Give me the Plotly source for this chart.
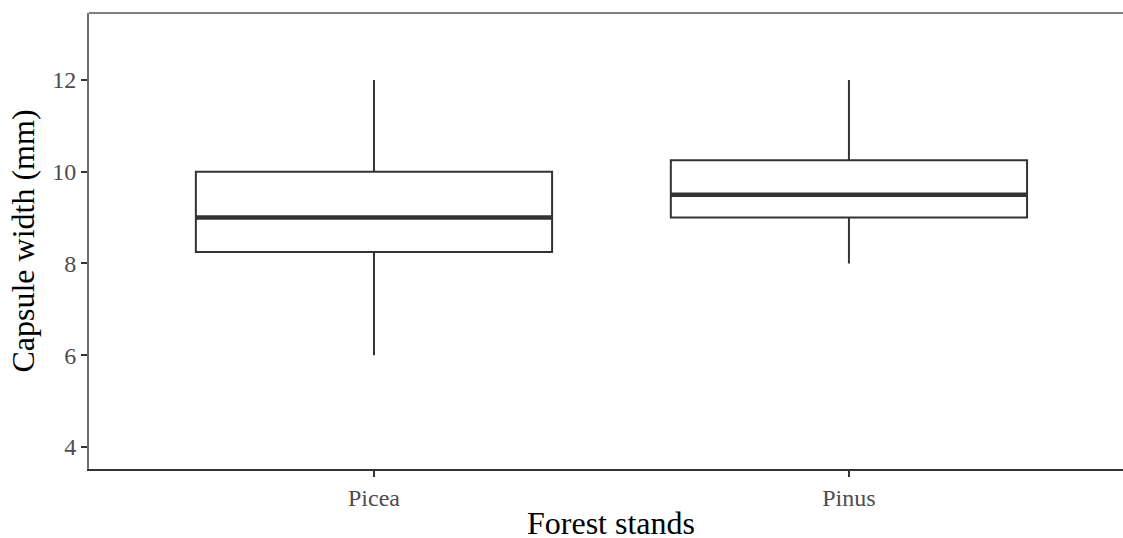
import plotly.graph_objects as go

categories = ["Picea", "Pinus"]
lower_whisker = [6, 8]
q1 = [8.25, 9]
median = [9, 9.5]
q3 = [10, 10.25]
upper_whisker = [12, 12]
y_ticks = [4, 6, 8, 10, 12]

box_width = 0.75
fig = go.Figure()
for i, cat in enumerate(categories):
    fig.add_trace(go.Box(
        x=[i], q1=[q1[i]], median=[median[i]], q3=[q3[i]],
        lowerfence=[lower_whisker[i]], upperfence=[upper_whisker[i]],
        width=box_width, whiskerwidth=0, fillcolor="white",
        line=dict(color="#333333", width=2), name=cat, showlegend=False,
        hoverinfo="skip",
    ))
    fig.add_trace(go.Scatter(
        x=[i - box_width / 2, i + box_width / 2], y=[median[i], median[i]],
        mode="lines", line=dict(color="#333333", width=4.5),
        showlegend=False, hoverinfo="skip",
    ))

fig.add_shape(type="line", xref="paper", yref="paper", x0=0, x1=1, y0=1, y1=1,
              line=dict(color="#7f7f7f", width=2))

fig.add_annotation(text="Forest stands", xref="paper", yref="paper",
                   x=0.505, y=-0.119,
                   xanchor="center", yanchor="middle", showarrow=False,
                   font=dict(size=32, color="black", family="Liberation Serif, Times New Roman, serif"))

fig.update_layout(
    width=1123, height=538,
    margin=dict(l=89, r=0, t=13, b=69),
    paper_bgcolor="white", plot_bgcolor="white",
    font=dict(family="Liberation Serif, Times New Roman, serif"),
    xaxis=dict(
        range=[-0.6, 1.577], tickmode="array", tickvals=list(range(len(categories))),
        ticktext=categories, showgrid=False, zeroline=False, automargin=False,
        showline=True, linecolor="#333333", linewidth=2,
        ticks="outside", ticklen=6, tickwidth=2, tickcolor="#333333",
        tickfont=dict(size=24, color="#4d4d4d"),
    ),
    yaxis=dict(
        range=[3.52, 13.46], tickvals=y_ticks, showgrid=False, zeroline=False,
        automargin=False,
        showline=True, linecolor="#6e6e6e", linewidth=2,
        ticks="outside", ticklen=6, tickwidth=2, tickcolor="#333333",
        tickfont=dict(size=24, color="#4d4d4d"),
        title=dict(text="Capsule width (mm)", font=dict(size=32, color="black"), standoff=8),
    ),
)

fig.write_html("out.html", config={"displayModeBar": False},
               post_script="document.body.style.margin='0';document.body.style.overflow='hidden';")
